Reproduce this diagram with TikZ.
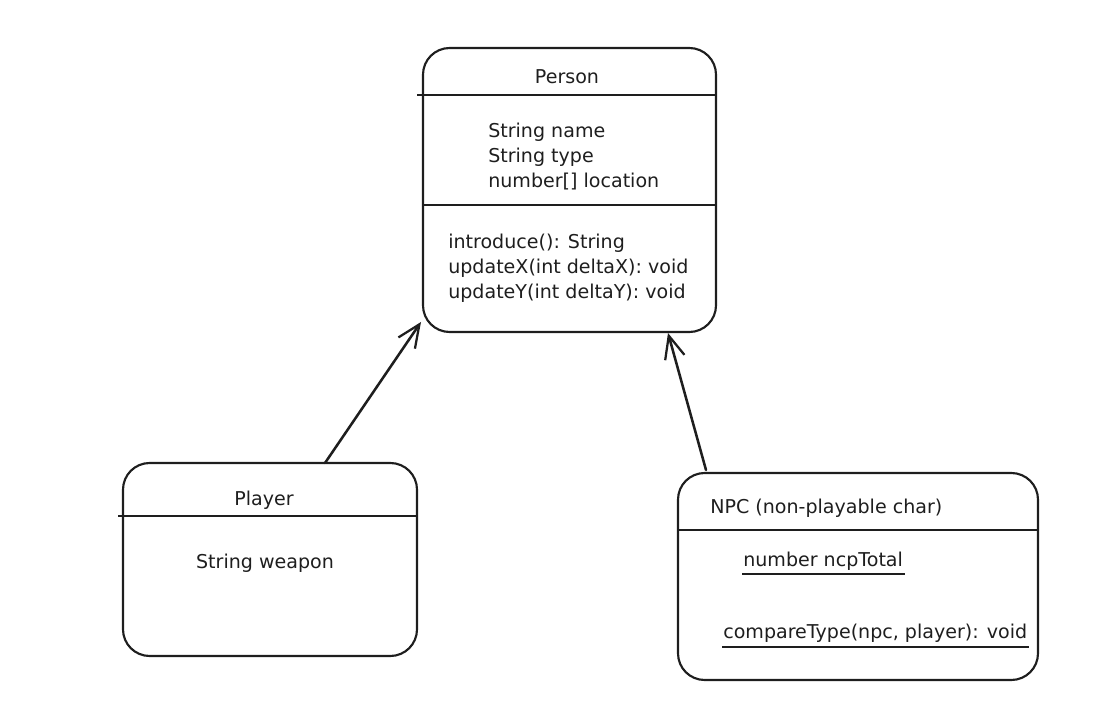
\documentclass[tikz,border=0pt]{standalone}
\usepackage{fontspec}
\setmainfont{DejaVu Sans}
\usetikzlibrary{arrows.meta,calc}
\definecolor{ink}{HTML}{1E1E1E}
\tikzset{
  umlbox/.style={draw=ink, line width=1.6pt, rounded corners=20pt, inner sep=0pt, outer sep=0pt},
  divider/.style={draw=ink, line width=1.7pt},
  txt/.style={anchor=base, inner sep=0pt, text=ink, font=\fontsize{14.3}{17}\selectfont},
  ltxt/.style={txt, anchor=base west},
  uline/.style={draw=ink, line width=1.7pt},
  arr/.style={draw=ink, line width=1.9pt, line cap=round, -{Straight Barb[length=17pt, width=15pt, line width=1.7pt]}}
}
\begin{document}
\begin{tikzpicture}[x=0.75pt, y=-0.75pt]
\useasboundingbox (0,0) rectangle (1110,723);
% boxes
\node[umlbox, minimum width=219.75pt, minimum height=213pt] (person) at (569.5,190) {};
\node[umlbox, minimum width=220.5pt, minimum height=144.75pt] (player) at (270,559.5) {};
\node[umlbox, minimum width=270pt, minimum height=155.25pt] (npc) at (858,576.5) {};
% dividers
\draw[divider] ($(person.north west)+(-6,47)$) -- ($(person.north east)+(0,47)$);
\draw[divider] ($(person.north west)+(0,157)$) -- ($(person.north east)+(0,157)$);
\draw[divider] ($(player.north west)+(-5,53)$) -- ($(player.north east)+(0,53)$);
\draw[divider] ($(npc.north west)+(0,57)$) -- ($(npc.north east)+(0,57)$);
% Person texts
\node[txt] (ptitle) at (567,84) {Person};
\node[ltxt] (pa1) at (488,138) {String name};
\node[ltxt] (pa2) at (488,163) {String type};
\node[ltxt] (pa3) at (488,188) {number[] location};
\node[ltxt] (pm1) at (448,249) {introduce(): String};
\node[ltxt] (pm2) at (448,274) {updateX(int deltaX): void};
\node[ltxt] (pm3) at (448,299) {updateY(int deltaY): void};
% Player texts
\node[txt] (pltitle) at (264,505) {Player};
\node[txt] (pla1) at (265,568) {String weapon};
% NPC texts
\node[ltxt] (ntitle) at (710,513) {NPC (non-playable char)};
\node[ltxt] (na1) at (743,566) {number ncpTotal};
\node[ltxt] (nm1) at (723,638) {compareType(npc, player): void};
\draw[uline] ($(na1.base west)+(-1,8)$) -- ($(na1.base east)+(2,8)$);
\draw[uline] ($(nm1.base west)+(-1,9)$) -- ($(nm1.base east)+(2,9)$);
% generalization arrows
\draw[arr] ($(player.north)+(55,0)$) -- ($(person.south west)+(-2,-10)$);
\draw[arr] ($(npc.north)+(-152,-3)$) -- ($(person.south)+(98.5,1)$);
\end{tikzpicture}
\end{document}
